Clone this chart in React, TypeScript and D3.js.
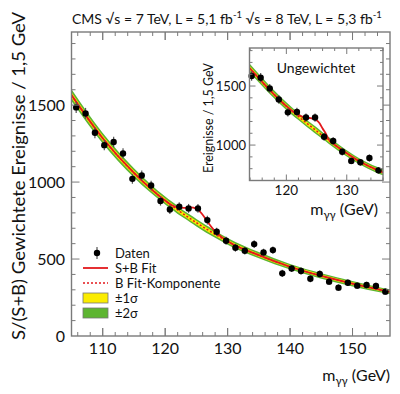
import React from 'react';
import * as d3 from 'd3';

// ---------- main plot data ----------
const massMain = [105.75,107.25,108.75,110.25,111.75,113.25,114.75,116.25,117.75,119.25,120.75,122.25,123.75,125.25,126.75,128.25,129.75,131.25,132.75,134.25,135.75,137.25,138.75,140.25,141.75,143.25,144.75,146.25,147.75,149.25,150.75,152.25,153.75,155.25];
const eventsMain = [1485,1446,1320,1240,1260,1186,1021,1043,978,877,822,840,829,829,753,677,619,573,554,597,543,558,407,439,422,372,403,353,314,346,327,331,325,288];
const errMain = [37,36,35,34,34,33,32,32,31,30,29,29,29,29,28,27,26,25,25,25,24,24,23,23,23,22,22,22,21,21,21,21,21,20];

const bkgMass = [105,110,115,120,121,122,123,124,125,126,127,128,129,130,135,140,145,150,155,156];
const bkgMain = [1565,1285,1060,880,849,819,790,763,736,710,685,661,638,615,525,450,390,340,295,287];
const sig1Main = [19,17,15,13,13,13,12,12,12,12,12,11,11,11,10,9,9,9,8,8];

const sbMass = [105,110,115,120,121,122,123,124,125,126,127,128,129,130,135,140,145,150,155,156];
const sbMain = [1565,1285,1060,880,851,835,832,835,828,788,730,679,644,616,525,450,390,340,295,287];

// ---------- inset data ----------
const massIns = [114.25,115.75,117.25,118.75,120.25,121.75,123.25,124.75,126.25,127.75,129.25,130.75,132.25,133.75,135.25];
const eventsIns = [1585,1570,1480,1386,1277,1280,1233,1233,1070,1034,943,866,854,890,786];
const errIns = [40,40,38,37,36,36,35,35,33,32,31,29,29,30,28];

const bkgInsMass = [113.9,117,120,121,122,123,124,125,126,127,128,129,132,135,136.5];
const bkgIns = [1652,1480,1330,1285,1242,1200,1160,1120,1080,1040,1002,965,865,790,760];
const sig1Ins = [19,17,16,16,15,15,15,15,14,14,14,14,13,13,13];

const sbInsMass = [113.9,117,120,121,122,123,124,125,125.5,126,126.5,127,128,129,132,135,136.5];
const sbIns = [1652,1480,1330,1288,1255,1235,1228,1210,1185,1140,1100,1048,1003,966,865,790,760];

// ---------- ticks / labels ----------
const xMajorMain = [110,120,130,140,150];
const yMajorMain = [0,500,1000,1500];
const xMajorIns = [120,130];
const yMajorIns = [1000,1500];
const legendLabels = ['Daten','S+B Fit','B Fit-Komponente','\u00b11\u03c3','\u00b12\u03c3'];

const RED = '#e3191c';
const YEL = '#fbec00';
const GRN = '#5db531';
const FRAME = '#7a7a7a';
const FONT = 'Lato, "Open Sans", sans-serif';

function Panel({x, y, xMinor, yMinor, xMajor, yMajor, majLen, minLen}: any) {
  const [x0, x1] = x.range();
  const [y0, y1] = y.range();
  const els: any[] = [];
  xMinor.forEach((v: number, i: number) => {
    const X = x(v); const L = xMajor.includes(v) ? majLen : minLen;
    els.push(<line key={'xb'+i} x1={X} x2={X} y1={y0} y2={y0 - L} />);
    els.push(<line key={'xt'+i} x1={X} x2={X} y1={y1} y2={y1 + L} />);
  });
  yMinor.forEach((v: number, i: number) => {
    const Y = y(v); const L = yMajor.includes(v) ? majLen : minLen;
    els.push(<line key={'yl'+i} x1={x0} x2={x0 + L} y1={Y} y2={Y} />);
    els.push(<line key={'yr'+i} x1={x1} x2={x1 - L} y1={Y} y2={Y} />);
  });
  return (
    <g stroke={FRAME} strokeWidth={1}>
      {els}
      <rect x={x0} y={y1} width={x1 - x0} height={y0 - y1} fill="none" strokeWidth={1.4} />
    </g>
  );
}

function Curves({x, y, bMass, bVals, s1, sMass, sVals, clipId}: any) {
  const area = (k: number) => d3.area<number>()
    .x((_, i) => x(bMass[i]))
    .y0((_, i) => y(bVals[i] - k * s1[i]))
    .y1((_, i) => y(bVals[i] + k * s1[i]))
    .curve(d3.curveMonotoneX)(bVals) as string;
  const bLine = d3.line<number>().x((_, i) => x(bMass[i])).y(d => y(d)).curve(d3.curveMonotoneX)(bVals) as string;
  const sLine = d3.line<number>().x((_, i) => x(sMass[i])).y(d => y(d)).curve(d3.curveMonotoneX)(sVals) as string;
  return (
    <g clipPath={`url(#${clipId})`}>
      <path d={area(2)} fill={GRN} />
      <path d={area(1)} fill={YEL} />
      <path d={bLine} fill="none" stroke={RED} strokeWidth={1.5} strokeDasharray="2,2" />
      <path d={sLine} fill="none" stroke={RED} strokeWidth={1.8} />
    </g>
  );
}

function Points({x, y, mass, vals, errs, r}: any) {
  return (
    <g>
      {mass.map((m: number, i: number) => (
        <g key={i}>
          <line x1={x(m)} x2={x(m)} y1={y(vals[i] - errs[i])} y2={y(vals[i] + errs[i])} stroke="#555" strokeWidth={1.2} />
          <circle cx={x(m)} cy={y(vals[i])} r={r} fill="#000" />
        </g>
      ))}
    </g>
  );
}

function MassLabel({xr, yb, size}: any) {
  return (
    <text x={xr} y={yb} textAnchor="end" fontSize={size} fontFamily={FONT} fill="#111">
      m<tspan fontSize={size * 0.7} dy={4}>{'\u03b3\u03b3'}</tspan><tspan dy={-4}>{' (GeV)'}</tspan>
    </text>
  );
}

export default function App() {
  const x = d3.scaleLinear().domain([105, 156]).range([71.5, 390]);
  const y = d3.scaleLinear().domain([0, 1975]).range([336, 32]);
  const xi = d3.scaleLinear().domain([113.9, 136.0]).range([249.5, 383]);
  const yi = d3.scaleLinear().domain([700, 1822]).range([180.5, 48]);

  const legY = [253, 268, 283, 298, 313];

  return (
    <svg width={400} height={394} style={{position: 'absolute', left: 0, top: 0, background: '#fff'}}>
      <defs>
        <clipPath id="cMain"><rect x={71.5} y={32} width={318.5} height={304} /></clipPath>
        <clipPath id="cIns"><rect x={249.5} y={48} width={133.5} height={132.5} /></clipPath>
      </defs>
      <rect width={400} height={394} fill="#fff" />

      {/* title */}
      <text x={72} y={24} fontSize={14} fontFamily={FONT} fill="#111">
        CMS {'\u221as'} = 7 TeV, L = 5,1 fb<tspan fontSize={9.5} dy={-6}>-1</tspan>
        <tspan dy={6}>{' \u221as'} = 8 TeV, L = 5,3 fb</tspan><tspan fontSize={9.5} dy={-6}>-1</tspan>
      </text>

      {/* main panel */}
      <Curves x={x} y={y} bMass={bkgMass} bVals={bkgMain} s1={sig1Main} sMass={sbMass} sVals={sbMain} clipId="cMain" />
      <Points x={x} y={y} mass={massMain} vals={eventsMain} errs={errMain} r={3.2} />
      <Panel x={x} y={y}
        xMinor={d3.range(106, 156, 2).concat(xMajorMain).sort((a, b) => a - b)}
        yMinor={d3.range(100, 1975, 100)}
        xMajor={xMajorMain} yMajor={yMajorMain} majLen={8} minLen={4} />
      {xMajorMain.map(v => (
        <text key={v} x={x(v)} y={353.5} textAnchor="middle" fontSize={16} fontFamily={FONT} fill="#111">{v}</text>
      ))}
      {yMajorMain.map(v => (
        <text key={v} x={65} y={y(v) + 5.5} textAnchor="end" fontSize={16} fontFamily={FONT} fill="#111">{v}</text>
      ))}
      <MassLabel xr={390} yb={381} size={16} />
      <text transform="translate(25,176) rotate(-90)" textAnchor="middle" fontSize={16.5} fontFamily={FONT} fill="#111"
        textLength={328} lengthAdjust="spacingAndGlyphs">S/(S+B) Gewichtete Ereignisse / 1,5 GeV</text>

      {/* legend */}
      <g fontFamily={FONT} fontSize={13} fill="#111">
        <line x1={97} x2={97} y1={legY[0] - 6} y2={legY[0] + 6} stroke="#555" strokeWidth={1.2} />
        <circle cx={97} cy={legY[0]} r={3.2} fill="#000" />
        <line x1={83} x2={108} y1={legY[1]} y2={legY[1]} stroke={RED} strokeWidth={1.8} />
        <line x1={83} x2={108} y1={legY[2]} y2={legY[2]} stroke={RED} strokeWidth={1.5} strokeDasharray="2,2" />
        <rect x={83} y={legY[3] - 5} width={25} height={10} fill={YEL} stroke="#777" strokeWidth={0.8} />
        <rect x={83} y={legY[4] - 5} width={25} height={10} fill={GRN} stroke="#777" strokeWidth={0.8} />
        {legendLabels.map((t, i) => (
          <text key={t} x={115} y={legY[i] + 4.5}>{t}</text>
        ))}
      </g>

      {/* inset */}
      <rect x={249.5} y={48} width={133.5} height={132.5} fill="#fff" />
      <Curves x={xi} y={yi} bMass={bkgInsMass} bVals={bkgIns} s1={sig1Ins} sMass={sbInsMass} sVals={sbIns} clipId="cIns" />
      <Points x={xi} y={yi} mass={massIns} vals={eventsIns} errs={errIns} r={3.2} />
      <Panel x={xi} y={yi}
        xMinor={d3.range(114, 137, 2)}
        yMinor={d3.range(800, 1822, 100)}
        xMajor={xMajorIns} yMajor={yMajorIns} majLen={6} minLen={3} />
      {xMajorIns.map(v => (
        <text key={v} x={xi(v)} y={195} textAnchor="middle" fontSize={13.5} fontFamily={FONT} fill="#111">{v}</text>
      ))}
      {yMajorIns.map(v => (
        <text key={v} x={246} y={yi(v) + 4.5} textAnchor="end" fontSize={13} fontFamily={FONT} fill="#111">{v}</text>
      ))}
      <text x={316} y={73} textAnchor="middle" fontSize={14} fontFamily={FONT} fill="#111">Ungewichtet</text>
      <MassLabel xr={378} yb={215} size={16} />
      <text transform="translate(213,118) rotate(-90)" textAnchor="middle" fontSize={13.5} fontFamily={FONT} fill="#111"
        textLength={110} lengthAdjust="spacingAndGlyphs">Ereignisse / 1,5 GeV</text>
    </svg>
  );
}
